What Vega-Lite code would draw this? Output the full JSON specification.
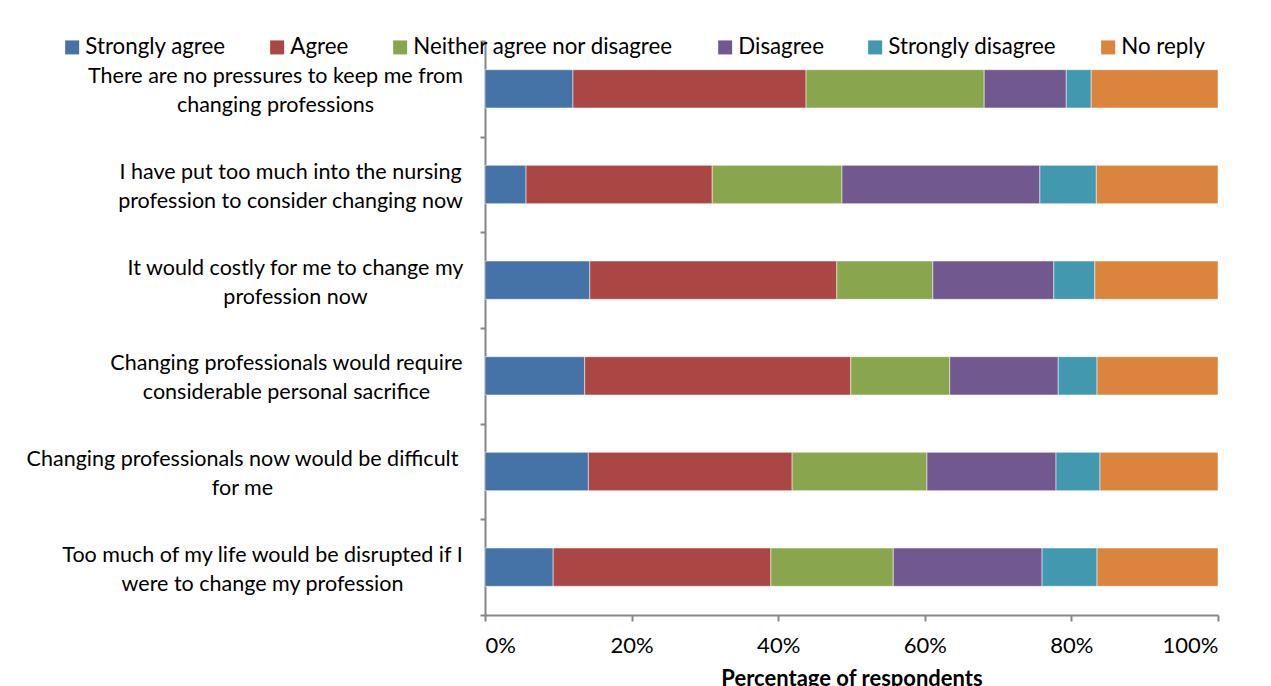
{
  "$schema": "https://vega.github.io/schema/vega-lite/v6.json",
  "width": 733,
  "height": 574,
  "autosize": {"type": "none"},
  "padding": {"left": 485, "top": 41, "right": 53, "bottom": 71},
  "background": "white",
  "config": {"view": {"stroke": null}, "font": "Lato"},
  "data": {
    "values": [
      {"q": "There are no pressures to keep me from|changing professions", "r": "Strongly agree", "k": 1, "v": 12.0},
      {"q": "There are no pressures to keep me from|changing professions", "r": "Agree", "k": 2, "v": 31.8},
      {"q": "There are no pressures to keep me from|changing professions", "r": "Neither agree nor disagree", "k": 3, "v": 24.3},
      {"q": "There are no pressures to keep me from|changing professions", "r": "Disagree", "k": 4, "v": 11.2},
      {"q": "There are no pressures to keep me from|changing professions", "r": "Strongly disagree", "k": 5, "v": 3.4},
      {"q": "There are no pressures to keep me from|changing professions", "r": "No reply", "k": 6, "v": 17.3},
      {"q": "I have put too much into the nursing|profession to consider changing now", "r": "Strongly agree", "k": 1, "v": 5.6},
      {"q": "I have put too much into the nursing|profession to consider changing now", "r": "Agree", "k": 2, "v": 25.4},
      {"q": "I have put too much into the nursing|profession to consider changing now", "r": "Neither agree nor disagree", "k": 3, "v": 17.7},
      {"q": "I have put too much into the nursing|profession to consider changing now", "r": "Disagree", "k": 4, "v": 27.0},
      {"q": "I have put too much into the nursing|profession to consider changing now", "r": "Strongly disagree", "k": 5, "v": 7.7},
      {"q": "I have put too much into the nursing|profession to consider changing now", "r": "No reply", "k": 6, "v": 16.6},
      {"q": "It would costly for me to change my|profession now", "r": "Strongly agree", "k": 1, "v": 14.3},
      {"q": "It would costly for me to change my|profession now", "r": "Agree", "k": 2, "v": 33.7},
      {"q": "It would costly for me to change my|profession now", "r": "Neither agree nor disagree", "k": 3, "v": 13.1},
      {"q": "It would costly for me to change my|profession now", "r": "Disagree", "k": 4, "v": 16.5},
      {"q": "It would costly for me to change my|profession now", "r": "Strongly disagree", "k": 5, "v": 5.6},
      {"q": "It would costly for me to change my|profession now", "r": "No reply", "k": 6, "v": 16.8},
      {"q": "Changing professionals would require|considerable personal sacrifice", "r": "Strongly agree", "k": 1, "v": 13.6},
      {"q": "Changing professionals would require|considerable personal sacrifice", "r": "Agree", "k": 2, "v": 36.3},
      {"q": "Changing professionals would require|considerable personal sacrifice", "r": "Neither agree nor disagree", "k": 3, "v": 13.5},
      {"q": "Changing professionals would require|considerable personal sacrifice", "r": "Disagree", "k": 4, "v": 14.8},
      {"q": "Changing professionals would require|considerable personal sacrifice", "r": "Strongly disagree", "k": 5, "v": 5.3},
      {"q": "Changing professionals would require|considerable personal sacrifice", "r": "No reply", "k": 6, "v": 16.5},
      {"q": "Changing professionals now would be difficult|for me", "r": "Strongly agree", "k": 1, "v": 14.1},
      {"q": "Changing professionals now would be difficult|for me", "r": "Agree", "k": 2, "v": 27.8},
      {"q": "Changing professionals now would be difficult|for me", "r": "Neither agree nor disagree", "k": 3, "v": 18.4},
      {"q": "Changing professionals now would be difficult|for me", "r": "Disagree", "k": 4, "v": 17.6},
      {"q": "Changing professionals now would be difficult|for me", "r": "Strongly disagree", "k": 5, "v": 6.0},
      {"q": "Changing professionals now would be difficult|for me", "r": "No reply", "k": 6, "v": 16.1},
      {"q": "Too much of my life would be disrupted if I|were to change my profession", "r": "Strongly agree", "k": 1, "v": 9.3},
      {"q": "Too much of my life would be disrupted if I|were to change my profession", "r": "Agree", "k": 2, "v": 29.7},
      {"q": "Too much of my life would be disrupted if I|were to change my profession", "r": "Neither agree nor disagree", "k": 3, "v": 16.7},
      {"q": "Too much of my life would be disrupted if I|were to change my profession", "r": "Disagree", "k": 4, "v": 20.3},
      {"q": "Too much of my life would be disrupted if I|were to change my profession", "r": "Strongly disagree", "k": 5, "v": 7.5},
      {"q": "Too much of my life would be disrupted if I|were to change my profession", "r": "No reply", "k": 6, "v": 16.5}
    ]
  },
  "mark": {"type": "bar", "stroke": "white", "strokeWidth": 0.5, "height": {"band": 0.4}},
  "encoding": {
    "y": {
      "field": "q",
      "type": "nominal",
      "sort": [
        "There are no pressures to keep me from|changing professions",
        "I have put too much into the nursing|profession to consider changing now",
        "It would costly for me to change my|profession now",
        "Changing professionals would require|considerable personal sacrifice",
        "Changing professionals now would be difficult|for me",
        "Too much of my life would be disrupted if I|were to change my profession"
      ],
      "scale": {"paddingInner": 0, "paddingOuter": 0},
      "axis": {
        "title": null,
        "tickBand": "extent",
        "domainColor": "#868686",
        "domainWidth": 2,
        "tickColor": "#868686",
        "tickWidth": 2,
        "tickSize": 5,
        "labelExpr": "split(datum.label, '|')",
        "labelFontSize": 21.5,
        "labelColor": "black",
        "labelAlign": "center",
        "labelBaseline": "middle",
        "labelLineHeight": 29,
        "labelOffset": -12,
        "labelLimit": 0,
        "labelPadding": {
          "condition": [
            {"test": "datum.value === 'There are no pressures to keep me from|changing professions'", "value": 205},
            {"test": "datum.value === 'I have put too much into the nursing|profession to consider changing now'", "value": 190},
            {"test": "datum.value === 'It would costly for me to change my|profession now'", "value": 185},
            {"test": "datum.value === 'Changing professionals would require|considerable personal sacrifice'", "value": 194},
            {"test": "datum.value === 'Changing professionals now would be difficult|for me'", "value": 238}
          ],
          "value": 218
        }
      }
    },
    "x": {
      "field": "v",
      "type": "quantitative",
      "stack": "zero",
      "scale": {"domain": [0, 100], "nice": false},
      "axis": {
        "values": [0, 20, 40, 60, 80, 100],
        "labelExpr": "datum.value + '%'",
        "grid": false,
        "title": "Percentage of respondents",
        "titleFontSize": 22,
        "titleFontWeight": "bold",
        "titleColor": "black",
        "labelFontSize": 22,
        "labelColor": "black",
        "tickSize": 6,
        "tickColor": "#868686",
        "tickWidth": 2,
        "domainColor": "#868686",
        "domainWidth": 2,
        "labelPadding": 14,
        "titlePadding": 12
      }
    },
    "color": {
      "field": "r",
      "type": "nominal",
      "scale": {
        "domain": ["Strongly agree", "Agree", "Neither agree nor disagree", "Disagree", "Strongly disagree", "No reply"],
        "range": ["#4572A7", "#AA4643", "#89A54E", "#71588F", "#4198AF", "#DB843D"]
      },
      "legend": {
        "orient": "none",
        "direction": "horizontal",
        "legendX": -424,
        "legendY": -5,
        "padding": 0,
        "title": null,
        "symbolType": "square",
        "symbolSize": 196,
        "symbolStrokeWidth": 0,
        "labelFontSize": 22.3,
        "labelColor": "black",
        "columnPadding": 40,
        "labelOffset": 2,
        "labelLimit": 0
      }
    },
    "order": {"field": "k"}
  }
}
